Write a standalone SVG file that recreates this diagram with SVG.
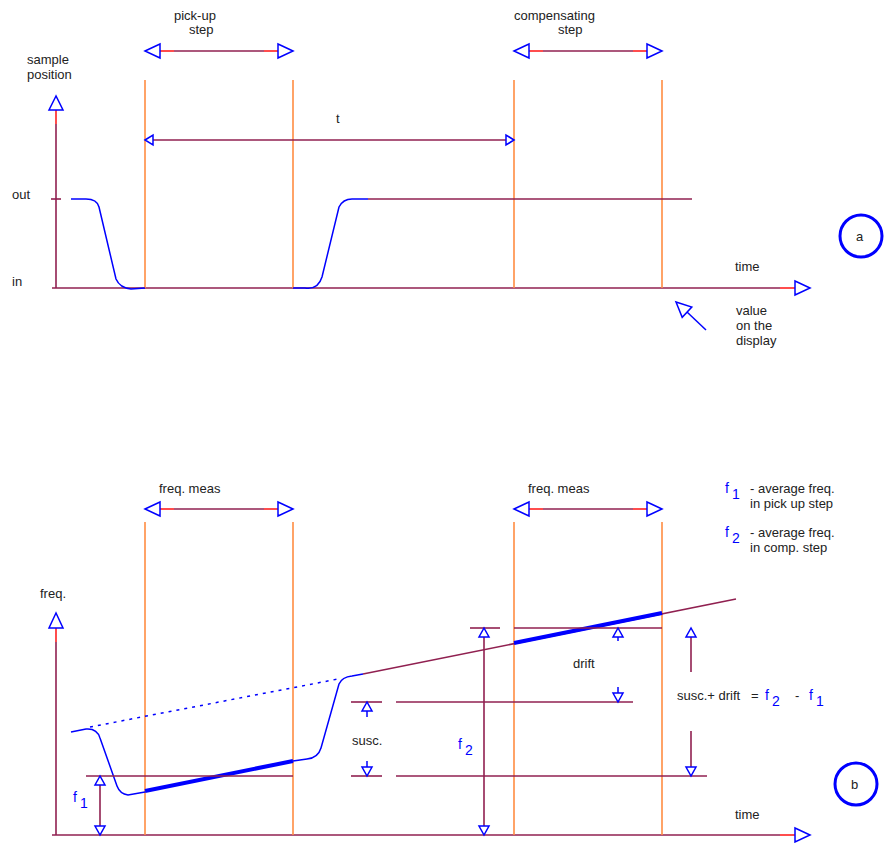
<svg xmlns="http://www.w3.org/2000/svg" width="888" height="843" viewBox="0 0 888 843">
<style>
text{font-family:"Liberation Sans",Arial,sans-serif;font-size:13px;fill:#222}
.sub{fill:#0000ff;font-size:14px}
.p{stroke:#902050;stroke-width:1.6;fill:none}
.o{stroke:#ff8c42;stroke-width:1.6;fill:none}
.r{stroke:#ff2020;stroke-width:1.6;fill:none}
.b{stroke:#0000ff;stroke-width:1.5;fill:none}
.bt{stroke:#0000ff;stroke-width:4;fill:none}
.h{stroke:#0000ff;stroke-width:1.5;fill:#fff}
.c{stroke:#0000ff;stroke-width:3;fill:#fff}
</style>
<rect width="888" height="843" fill="#fff"/>

<g id="panel-a">
  <g id="axes-a">
    <line class="p" x1="56" y1="124" x2="56" y2="288"/>
    <line class="r" x1="56" y1="110" x2="56" y2="124"/>
    <polygon class="h" points="56,96 49,110 63,110"/>
    <line class="p" x1="52" y1="288" x2="780" y2="288"/>
    <line class="r" x1="780" y1="288" x2="795" y2="288"/>
    <polygon class="h" points="810,288 795,281 795,295"/>
    <line class="p" x1="51" y1="199" x2="61" y2="199"/>
    <text x="27" y="64">sample</text>
    <text x="27" y="79">position</text>
    <text x="12" y="199">out</text>
    <text x="12" y="286">in</text>
    <text x="735" y="271">time</text>
  </g>
  <g id="verticals-a">
    <line class="o" x1="145" y1="80" x2="145" y2="288"/>
    <line class="o" x1="293" y1="80" x2="293" y2="288"/>
    <line class="o" x1="514" y1="80" x2="514" y2="288"/>
    <line class="o" x1="662" y1="80" x2="662" y2="288"/>
  </g>
  <g id="pickup-step">
    <line class="r" x1="160" y1="51" x2="174" y2="51"/>
    <line class="p" x1="174" y1="51" x2="264" y2="51"/>
    <line class="r" x1="264" y1="51" x2="278" y2="51"/>
    <polygon class="h" points="145,51 160,44 160,58"/>
    <polygon class="h" points="293,51 278,44 278,58"/>
    <text x="174" y="20">pick-up</text>
    <text x="189" y="34">step</text>
  </g>
  <g id="compensating-step">
    <line class="r" x1="529" y1="51" x2="543" y2="51"/>
    <line class="p" x1="543" y1="51" x2="633" y2="51"/>
    <line class="r" x1="633" y1="51" x2="647" y2="51"/>
    <polygon class="h" points="514,51 529,44 529,58"/>
    <polygon class="h" points="662,51 647,44 647,58"/>
    <text x="514" y="20">compensating</text>
    <text x="558" y="34">step</text>
  </g>
  <g id="t-arrow">
    <line class="p" x1="153" y1="140" x2="506" y2="140"/>
    <polygon class="h" points="145,140 153,135 153,145"/>
    <polygon class="h" points="514,140 506,135 506,145"/>
    <text x="336" y="123">t</text>
  </g>
  <g id="position-curve">
    <path class="b" d="M71,199 H86 Q97,199 99,207 L116,279 Q120,288 131,289 L145,288"/>
    <path class="b" d="M293,288 H305 Q318,290 322,277 L339,207 Q343,199 352,199 H368"/>
    <line class="p" x1="368" y1="199" x2="692" y2="199"/>
  </g>
  <g id="display-note">
    <line class="b" x1="687" y1="312" x2="706" y2="330"/>
    <polygon class="h" points="676,302 691.8,307.1 682.2,317.3"/>
    <text x="736" y="315">value</text>
    <text x="736" y="330">on the</text>
    <text x="736" y="345">display</text>
  </g>
  <g id="label-a">
    <circle class="c" cx="861" cy="236" r="21"/>
    <text x="856" y="241">a</text>
  </g>
</g>

<g id="panel-b">
  <g id="axes-b">
    <line class="p" x1="56" y1="642" x2="56" y2="835"/>
    <line class="r" x1="56" y1="628" x2="56" y2="642"/>
    <polygon class="h" points="56,613 49,628 63,628"/>
    <line class="p" x1="52" y1="835" x2="780" y2="835"/>
    <line class="r" x1="780" y1="835" x2="795" y2="835"/>
    <polygon class="h" points="810,835 795,828 795,842"/>
    <text x="40" y="598">freq.</text>
    <text x="735" y="819">time</text>
  </g>
  <g id="verticals-b">
    <line class="o" x1="145" y1="522" x2="145" y2="835"/>
    <line class="o" x1="293" y1="522" x2="293" y2="835"/>
    <line class="o" x1="514" y1="522" x2="514" y2="835"/>
    <line class="o" x1="662" y1="522" x2="662" y2="835"/>
  </g>
  <g id="freq-meas-1">
    <line class="r" x1="160" y1="509" x2="174" y2="509"/>
    <line class="p" x1="174" y1="509" x2="264" y2="509"/>
    <line class="r" x1="264" y1="509" x2="278" y2="509"/>
    <polygon class="h" points="145,509 160,502 160,516"/>
    <polygon class="h" points="293,509 278,502 278,516"/>
    <text x="159" y="493">freq. meas</text>
  </g>
  <g id="freq-meas-2">
    <line class="r" x1="529" y1="509" x2="543" y2="509"/>
    <line class="p" x1="543" y1="509" x2="633" y2="509"/>
    <line class="r" x1="633" y1="509" x2="647" y2="509"/>
    <polygon class="h" points="514,509 529,502 529,516"/>
    <polygon class="h" points="662,509 647,502 647,516"/>
    <text x="528" y="493">freq. meas</text>
  </g>
  <g id="legend">
    <text x="725" y="493" class="sub">f</text><text x="732" y="499" class="sub">1</text>
    <text x="750" y="493">- average freq.</text>
    <text x="750" y="508">in pick up step</text>
    <text x="725" y="537" class="sub">f</text><text x="732" y="543" class="sub">2</text>
    <text x="750" y="537">- average freq.</text>
    <text x="750" y="552">in comp. step</text>
  </g>
  <g id="freq-curve">
    <path class="b" d="M71,732 L86,729 Q97,728 100,738 L117,786 Q120,794 128,795 L145,792"/>
    <line class="bt" x1="145" y1="791" x2="293" y2="761"/>
    <path class="b" d="M293,761 L307,759 Q318,758 321,748 L339,684 Q342,677 352,676 L363,674"/>
    <line class="b" x1="90" y1="727" x2="338" y2="679" stroke-dasharray="3,5"/>
    <line class="p" x1="363" y1="674" x2="736" y2="599"/>
    <line class="bt" x1="514" y1="643" x2="662" y2="613"/>
  </g>
  <g id="levels">
    <line class="p" x1="86" y1="776" x2="293" y2="776"/>
    <line class="p" x1="351" y1="702" x2="382" y2="702"/>
    <line class="p" x1="396" y1="702" x2="633" y2="702"/>
    <line class="p" x1="351" y1="776" x2="382" y2="776"/>
    <line class="p" x1="396" y1="776" x2="707" y2="776"/>
    <line class="p" x1="470" y1="628" x2="500" y2="628"/>
    <line class="p" x1="514" y1="628" x2="662" y2="628"/>
  </g>
  <g id="f1-arrow">
    <line class="p" x1="100" y1="785" x2="100" y2="826"/>
    <polygon class="h" points="100,776 95,785 105,785"/>
    <polygon class="h" points="100,835 95,826 105,826"/>
    <text x="73" y="802" class="sub">f</text><text x="80" y="808" class="sub">1</text>
  </g>
  <g id="f2-arrow">
    <line class="p" x1="484" y1="637" x2="484" y2="826"/>
    <polygon class="h" points="484,628 479,637 489,637"/>
    <polygon class="h" points="484,835 479,826 489,826"/>
    <text x="458" y="749" class="sub">f</text><text x="465" y="755" class="sub">2</text>
  </g>
  <g id="susc-arrows">
    <line class="b" x1="367" y1="711" x2="367" y2="717"/>
    <polygon class="h" points="367,702 362,711 372,711"/>
    <line class="b" x1="367" y1="761" x2="367" y2="767"/>
    <polygon class="h" points="367,776 362,767 372,767"/>
    <text x="352" y="745">susc.</text>
  </g>
  <g id="drift-arrows">
    <line class="b" x1="618" y1="637" x2="618" y2="641"/>
    <polygon class="h" points="618,628 613,637 623,637"/>
    <line class="b" x1="618" y1="687" x2="618" y2="693"/>
    <polygon class="h" points="618,702 613,693 623,693"/>
    <text x="573" y="668">drift</text>
  </g>
  <g id="susc-drift-arrows">
    <line class="p" x1="691" y1="637" x2="691" y2="672"/>
    <polygon class="h" points="691,628 686,637 696,637"/>
    <line class="p" x1="691" y1="731" x2="691" y2="767"/>
    <polygon class="h" points="691,776 686,767 696,767"/>
    <text x="677" y="700">susc.+ drift</text>
    <text x="751" y="700">=</text>
    <text x="765" y="700" class="sub">f</text><text x="772" y="706" class="sub">2</text>
    <text x="795" y="700">-</text>
    <text x="809" y="700" class="sub">f</text><text x="816" y="706" class="sub">1</text>
  </g>
  <g id="label-b">
    <circle class="c" cx="856" cy="784" r="21"/>
    <text x="851" y="789">b</text>
  </g>
</g>
</svg>
